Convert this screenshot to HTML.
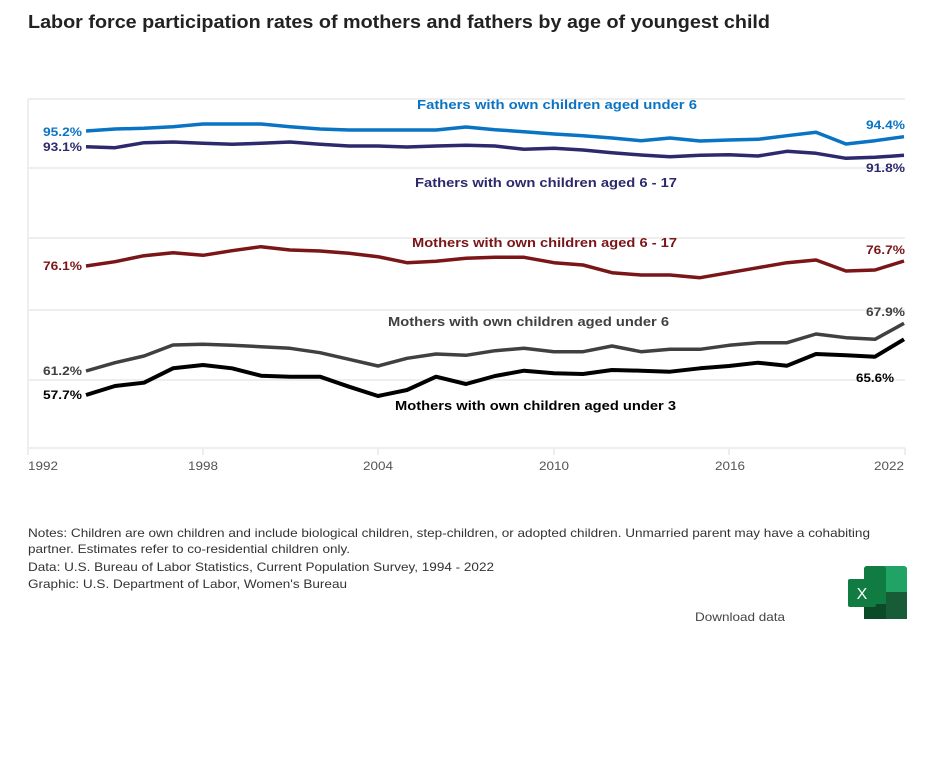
<!DOCTYPE html>
<html><head><meta charset="utf-8"><style>
body{margin:0;background:#fff;width:932px;height:774px;overflow:hidden;font-family:"Liberation Sans",Arial,sans-serif;}
</style></head><body>
<svg width="932" height="774" style="position:absolute;left:0;top:0" font-family="Liberation Sans,Arial,sans-serif">
<text x="28" y="28" font-size="18" font-weight="bold" fill="#222" textLength="742" lengthAdjust="spacingAndGlyphs">Labor force participation rates of mothers and fathers by age of youngest child</text>
<g stroke="#eee" stroke-width="2">
<line x1="28" y1="99" x2="905" y2="99"/><line x1="28" y1="168" x2="905" y2="168"/>
<line x1="28" y1="238" x2="905" y2="238"/><line x1="28" y1="310" x2="905" y2="310"/>
<line x1="28" y1="380" x2="905" y2="380"/><line x1="28" y1="448" x2="905" y2="448"/>
<line x1="28" y1="99" x2="28" y2="455"/>
<line x1="203" y1="448" x2="203" y2="455"/><line x1="378" y1="448" x2="378" y2="455"/>
<line x1="554" y1="448" x2="554" y2="455"/><line x1="729" y1="448" x2="729" y2="455"/><line x1="905" y1="448" x2="905" y2="455"/>
</g>
<g fill="none" stroke-width="3.5" stroke-linejoin="round">
<polyline stroke="#0a74c4" points="86,131 115,129 144,128.3 173,126.7 203,124 232,124 261,124 290,126.7 320,129 349,130 378,130 407,130 436,130 466,127 495,129.7 524,131.7 554,134 583,135.7 612,138 641,140.7 670,138 700,141 729,140 758,139.3 787,135.7 816,132.3 846,144 875,140.7 904,136.7"/>
<polyline stroke="#2c2a6c" points="86,146.7 115,147.7 144,142.7 173,142 203,143.3 232,144.3 261,143.3 290,142 320,144.3 349,146 378,146 407,147 436,146 466,145.3 495,146 524,149.3 554,148.3 583,150 612,152.7 641,155 670,156.7 700,155.3 729,154.7 758,156 787,151.3 816,153.3 846,158.3 875,157.3 904,155.3"/>
<polyline stroke="#7a1518" points="86,266 115,261.7 144,255.7 173,252.7 203,255.3 232,250.7 261,246.7 290,250 320,251 349,253.3 378,256.7 407,262.7 436,261.3 466,258.3 495,257.3 524,257.3 554,262.7 583,265 612,272.7 641,275 670,275 700,277.7 729,272.7 758,267.7 787,262.7 816,260 846,271 875,270 904,261"/>
<polyline stroke="#404040" points="86,371 115,362.7 144,356 173,345 203,344.3 232,345.3 261,346.7 290,348.3 320,352.7 349,359.3 378,366 407,358.3 436,354 466,355.3 495,350.7 524,348.3 554,351.7 583,351.7 612,346 641,351.7 670,349.3 700,349.3 729,345.3 758,342.7 787,342.7 816,334 846,337.7 875,339.3 904,323.3"/>
<polyline stroke="#000" stroke-width="4" points="86,395 115,386 144,382.7 173,368.3 203,365 232,368.3 261,375.7 290,376.7 320,376.7 349,386.7 378,396 407,390 436,376.7 466,384 495,376 524,370.7 554,373.3 583,374 612,370 641,370.7 670,371.7 700,368.3 729,366 758,362.7 787,365.7 816,354 846,355.3 875,356.7 904,339.3"/>
</g>
<g font-size="13" font-weight="bold" lengthAdjust="spacingAndGlyphs">
<text x="417" y="109" fill="#0a74c4" textLength="280" lengthAdjust="spacingAndGlyphs">Fathers with own children aged  under 6</text>
<text x="415" y="187" fill="#2c2a6c" textLength="262" lengthAdjust="spacingAndGlyphs">Fathers with own children aged 6 - 17</text>
<text x="412" y="247" fill="#7a1518" textLength="265" lengthAdjust="spacingAndGlyphs">Mothers with own children aged 6 - 17</text>
<text x="388" y="326" fill="#404040" textLength="281" lengthAdjust="spacingAndGlyphs">Mothers with own children aged under 6</text>
<text x="395" y="410" fill="#000" textLength="281" lengthAdjust="spacingAndGlyphs">Mothers with own children aged under 3</text>
<g font-size="12">
<text x="43" y="136" fill="#0a74c4" textLength="39" lengthAdjust="spacingAndGlyphs">95.2%</text>
<text x="43" y="151" fill="#2c2a6c" textLength="39" lengthAdjust="spacingAndGlyphs">93.1%</text>
<text x="43" y="270" fill="#7a1518" textLength="39" lengthAdjust="spacingAndGlyphs">76.1%</text>
<text x="43" y="375" fill="#404040" textLength="39" lengthAdjust="spacingAndGlyphs">61.2%</text>
<text x="43" y="399" fill="#000" textLength="39" lengthAdjust="spacingAndGlyphs">57.7%</text>
<text x="866" y="129" fill="#0a74c4" textLength="39" lengthAdjust="spacingAndGlyphs">94.4%</text>
<text x="866" y="172" fill="#2c2a6c" textLength="39" lengthAdjust="spacingAndGlyphs">91.8%</text>
<text x="866" y="254" fill="#7a1518" textLength="39" lengthAdjust="spacingAndGlyphs">76.7%</text>
<text x="866" y="316" fill="#404040" textLength="39" lengthAdjust="spacingAndGlyphs">67.9%</text>
<text x="856" y="382" fill="#000" textLength="38" lengthAdjust="spacingAndGlyphs">65.6%</text>
</g></g>
<g font-size="12" fill="#555">
<text x="28" y="470" textLength="30" lengthAdjust="spacingAndGlyphs">1992</text>
<text x="188" y="470" textLength="30" lengthAdjust="spacingAndGlyphs">1998</text>
<text x="363" y="470" textLength="30" lengthAdjust="spacingAndGlyphs">2004</text>
<text x="539" y="470" textLength="30" lengthAdjust="spacingAndGlyphs">2010</text>
<text x="715" y="470" textLength="30" lengthAdjust="spacingAndGlyphs">2016</text>
<text x="874" y="470" textLength="30" lengthAdjust="spacingAndGlyphs">2022</text>
</g>
<g font-size="12" fill="#333">
<text x="28" y="537" textLength="842" lengthAdjust="spacingAndGlyphs">Notes: Children are own children and include biological children, step-children, or adopted children. Unmarried parent may have a cohabiting</text>
<text x="28" y="553" textLength="322" lengthAdjust="spacingAndGlyphs">partner. Estimates refer to co-residential children only.</text>
<text x="28" y="571" textLength="466" lengthAdjust="spacingAndGlyphs">Data: U.S. Bureau of Labor Statistics, Current Population Survey, 1994 - 2022</text>
<text x="28" y="588" textLength="319" lengthAdjust="spacingAndGlyphs">Graphic: U.S. Department of Labor, Women's Bureau</text>
<text x="695" y="621" fill="#444" textLength="90" lengthAdjust="spacingAndGlyphs">Download data</text>
</g>
<g>
<rect x="864" y="566" width="43" height="53" rx="3" fill="#21a366"/>
<rect x="864" y="566" width="22" height="53" rx="3" fill="#107c41"/>
<rect x="886" y="592" width="21" height="27" fill="#185c37"/>
<rect x="864" y="604" width="22" height="15" fill="#0b4a29"/>
<rect x="848" y="579" width="28" height="28" rx="2" fill="#107c41"/>
<text x="862" y="599" font-size="16" fill="#fff" text-anchor="middle">X</text>
</g>
</svg>
</body></html>
